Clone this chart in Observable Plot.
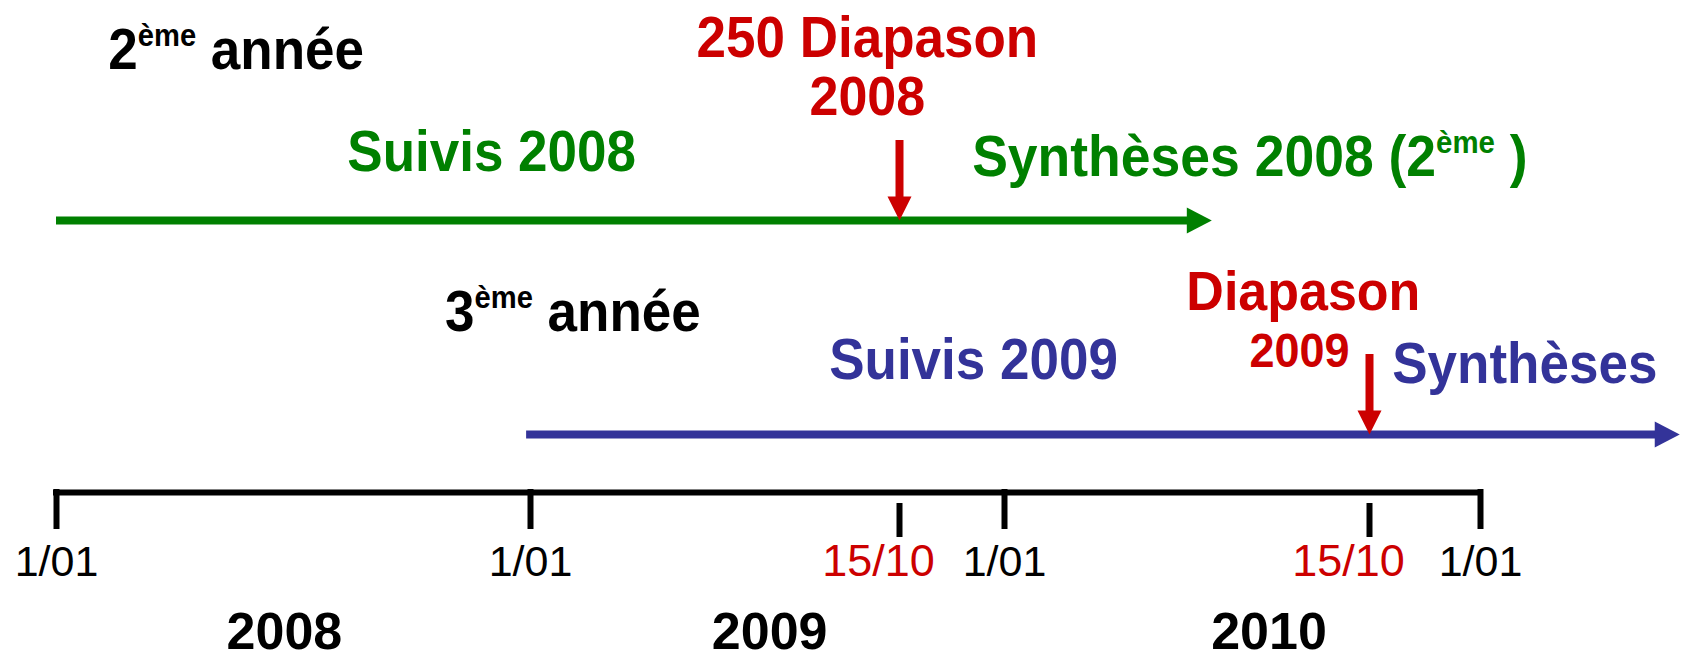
<!DOCTYPE html>
<html>
<head>
<meta charset="utf-8">
<script src="https://cdn.jsdelivr.net/npm/d3@7"></script>
<script src="https://cdn.jsdelivr.net/npm/@observablehq/plot@0.6"></script>
<style>
  html, body { margin: 0; padding: 0; background: #ffffff; }
  #chart svg { display: block; }
</style>
</head>
<body>
<div id="chart"></div>
<script>
// ---------------- DATA ----------------
const tracks = ["2ème année", "3ème année"];
const trackStart = ["2008-01-01", "2008-12-29"];
const trackEnd = ["2010-06-13", "2011-05-21"];

const yearTicks = ["2008-01-01", "2009-01-01", "2010-01-01", "2011-01-01"];
const yearTickLabels = ["1/01", "1/01", "1/01", "1/01"];

const diapasonDates = ["2009-10-15", "2010-10-15"];
const diapasonTickLabels = ["15/10", "15/10"];
const diapasonTracks = ["2ème année", "3ème année"];

const years = ["2008", "2009", "2010"];
const yearLabelDates = ["2008-06-25", "2009-07-06", "2010-07-28"];

const labelTexts = ["2ème année", "Suivis 2008", "250 Diapason", "2008", "Synthèses 2008 (2ème )",
                    "3ème année", "Suivis 2009", "Diapason", "2009", "Synthèses"];
const labelDates = ["2008-02-10", "2008-12-02", "2009-09-20", "2009-09-20", "2009-12-08",
                    "2008-10-27", "2009-12-09", "2010-08-24", "2010-08-21", "2010-10-31"];
const labelTracks = ["2ème année", "2ème année", "2ème année", "2ème année", "2ème année",
                     "3ème année", "3ème année", "3ème année", "3ème année", "3ème année"];

// ---------------- LAYOUT / STYLE ----------------
const GREEN = "#008000", BLUE = "#333399", RED = "#cc0000";
const trackColors = [GREEN, BLUE];
const FONT = "Liberation Sans, Arial, Helvetica, sans-serif";
const labelLayout = [
  {dy: -152, anchor: "start",  fill: "black", size: 53},
  {dy: -50,  anchor: "middle", fill: GREEN,   size: 53},
  {dy: -164, anchor: "middle", fill: RED,     size: 53},
  {dy: -106, anchor: "middle", fill: RED,     size: 52},
  {dy: -45,  anchor: "start",  fill: GREEN,   size: 53.5},
  {dy: -104, anchor: "start",  fill: "black", size: 53},
  {dy: -56,  anchor: "middle", fill: BLUE,    size: 53},
  {dy: -125, anchor: "middle", fill: RED,     size: 52},
  {dy: -68,  anchor: "middle", fill: RED,     size: 45},
  {dy: -52,  anchor: "start",  fill: BLUE,    size: 53}
];
const AXIS_DY = 58;

const parse = (s) => new Date(s + "T00:00:00Z");

// filled arrow head, tip at the origin, pointing along +x; r = length
const head = (ratio) => ({
  draw(context, size) {
    const L = Math.sqrt(size / Math.PI);
    const W = L * ratio;
    context.moveTo(0, 0);
    context.lineTo(-L, -W / 2);
    context.lineTo(-L, W / 2);
    context.closePath();
  }
});

const marks = [];

// tracks (arrows)
tracks.forEach((t, i) => {
  marks.push(Plot.ruleY([t], {
    y: (d) => d, x1: () => parse(trackStart[i]), x2: () => parse(trackEnd[i]),
    stroke: trackColors[i], strokeWidth: 8, insetRight: 14
  }));
  marks.push(Plot.dot([t], {
    y: (d) => d, x: () => parse(trackEnd[i]),
    symbol: head(1.04), r: 25, fill: trackColors[i], stroke: "none"
  }));
});

// Diapason red arrows
marks.push(Plot.ruleX(diapasonDates, {
  x: (d) => parse(d), y1: (d, i) => diapasonTracks[i], y2: (d, i) => diapasonTracks[i],
  insetTop: -80, insetBottom: 14, stroke: RED, strokeWidth: 8
}));
marks.push(Plot.dot(diapasonDates, {
  x: (d) => parse(d), y: (d, i) => diapasonTracks[i],
  symbol: head(1.0), r: 24, rotate: 90, fill: RED, stroke: "none"
}));

// time axis
marks.push(Plot.ruleY([tracks[1]], {
  y: (d) => d, x1: () => parse(yearTicks[0]), x2: () => parse(yearTicks[yearTicks.length - 1]),
  dy: AXIS_DY, stroke: "black", strokeWidth: 6, strokeLinecap: "square"
}));
marks.push(Plot.ruleX(yearTicks, {
  x: (d) => parse(d), y1: () => tracks[1], y2: () => tracks[1],
  insetTop: AXIS_DY - 3, insetBottom: -95, stroke: "black", strokeWidth: 6
}));
marks.push(Plot.ruleX(diapasonDates, {
  x: (d) => parse(d), y1: () => tracks[1], y2: () => tracks[1],
  insetTop: 69, insetBottom: -103, stroke: "black", strokeWidth: 6
}));
marks.push(Plot.text(yearTicks, {
  x: (d) => parse(d), y: () => tracks[1], text: (d, i) => yearTickLabels[i],
  dy: 141, lineAnchor: "bottom", textAnchor: "middle",
  fontFamily: FONT, fontSize: 43, fill: "black"
}));
marks.push(Plot.text(diapasonDates, {
  x: (d) => parse(d), y: () => tracks[1], text: (d, i) => diapasonTickLabels[i],
  dx: -21, dy: 141, lineAnchor: "bottom", textAnchor: "middle",
  fontFamily: FONT, fontSize: 45, fill: RED
}));
marks.push(Plot.text(years, {
  x: (d, i) => parse(yearLabelDates[i]), y: () => tracks[1], text: (d) => d,
  dy: 214, lineAnchor: "bottom", textAnchor: "middle",
  fontFamily: FONT, fontWeight: 700, fontSize: 52, fill: "black"
}));

// annotations
labelTexts.forEach((t, i) => {
  const L = labelLayout[i];
  marks.push(Plot.text([i], {
    x: () => parse(labelDates[i]), y: () => labelTracks[i], text: () => labelTexts[i],
    dy: L.dy, lineAnchor: "bottom", textAnchor: L.anchor,
    fontFamily: FONT, fontWeight: "bold", fontSize: L.size, fill: L.fill
  }));
});

// schematic (piecewise) timeline, as drawn in the original
const chart = Plot.plot({
  width: 1686,
  height: 659,
  margin: 0,
  x: {
    type: "utc",
    domain: [yearTicks[0], yearTicks[1], diapasonDates[0], yearTicks[2], diapasonDates[1], yearTicks[3]].map(parse),
    range: [56, 530, 899, 1004, 1369, 1480],
    axis: null
  },
  y: {type: "point", domain: tracks, range: [220, 434], padding: 0, axis: null},
  style: {background: "#ffffff", overflow: "visible"},
  marks
});

// superscripts "ème" and slight vertical stretch of bold annotation labels
const NS = "http://www.w3.org/2000/svg";
chart.querySelectorAll("text").forEach((t) => {
  const s = t.textContent;
  const k = s.indexOf("ème");
  if (k >= 0) {
    while (t.firstChild) t.removeChild(t.firstChild);
    const a = document.createElementNS(NS, "tspan"); a.textContent = s.slice(0, k);
    const b = document.createElementNS(NS, "tspan"); b.textContent = "ème";
    b.setAttribute("font-size", "0.55em"); b.setAttribute("dy", "-0.7em");
    const c = document.createElementNS(NS, "tspan"); c.textContent = s.slice(k + 3);
    c.setAttribute("dy", "0.385em");
    t.append(a, b, c);
  }
  const g = t.parentNode;
  if (g && g.getAttribute("font-weight") === "bold") {
    const tr = t.getAttribute("transform") || "";
    t.setAttribute("transform", tr + " scale(1,1.08)");
  }
});

document.getElementById("chart").append(chart);
</script>
</body>
</html>
